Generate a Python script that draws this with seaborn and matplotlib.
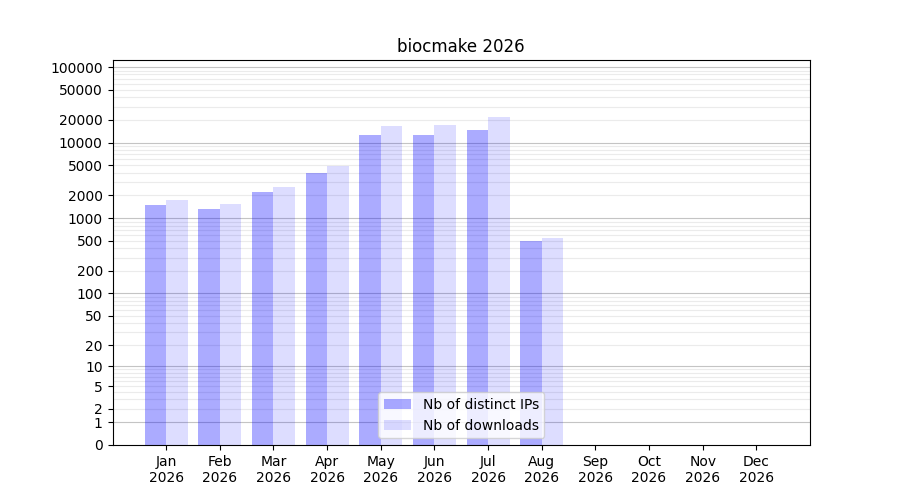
import numpy as np
import pandas as pd
import matplotlib
matplotlib.use("Agg")
import matplotlib.pyplot as plt
from matplotlib.patches import Patch
import seaborn as sns

months = ['Jan', 'Feb', 'Mar', 'Apr', 'May', 'Jun', 'Jul', 'Aug', 'Sep', 'Oct', 'Nov', 'Dec']
year = 2026
distinct_ips = [1500, 1320, 2220, 3960, 12600, 12600, 14700, 500, 0, 0, 0, 0]
downloads = [1740, 1540, 2590, 4900, 16600, 17100, 21800, 547, 0, 0, 0, 0]
series_names = ['Nb of distinct IPs', 'Nb of downloads']
ytick_values = [0, 1, 2, 5, 10, 20, 50, 100, 200, 500, 1000, 2000, 5000,
                10000, 20000, 50000, 100000]

# long format table for seaborn
df = pd.DataFrame({
    'month': months * 2,
    'value': distinct_ips + downloads,
    'series': [series_names[0]] * len(months) + [series_names[1]] * len(months),
})

colors = {series_names[0]: (0, 0, 1, 0.33), series_names[1]: (0, 0, 1, 0.133)}
y_top = 124000

fig, ax = plt.subplots(figsize=(9, 5), dpi=100)
sns.barplot(data=df, x='month', y='value', hue='series', order=months,
            hue_order=series_names, palette=['blue', 'blue'], saturation=1,
            linewidth=0, edgecolor='none', legend=False, ax=ax, zorder=2)

# set transparency per series (first 12 patches = IPs, next 12 = downloads)
for i, p in enumerate(ax.patches):
    p.set_facecolor(colors[series_names[0]] if i < len(months) else colors[series_names[1]])

# log(1+y) scale so that 0 is visible
ax.set_yscale('function', functions=(lambda y: np.log10(np.maximum(y, 0) + 1),
                                     lambda y: 10 ** y - 1))
ax.set_yticks(ytick_values)
ax.set_yticklabels([str(v) for v in ytick_values])

# grid lines: light ones for every 1..9 x 10^k, darker ones on decades
minor_vals = [m * 10 ** k for k in range(0, 6) for m in range(2, 10) if m * 10 ** k < y_top]
ax.set_yticks(minor_vals, minor=True)
ax.tick_params(axis='y', which='minor', length=0)
for v in minor_vals:
    ax.axhline(v, color='#ebebeb', linewidth=0.8, zorder=0)
for v in [1, 10, 100, 1000, 10000, 100000]:
    ax.axhline(v, color='#c4c4c4', linewidth=0.8, zorder=1)
ax.set_ylim(0, y_top)

ax.set_xlim(-1, 12)
ax.set_xticks(range(len(months)))
ax.set_xticklabels([f"{m}\n{year}" for m in months])
ax.set_xlabel('')
ax.set_ylabel('')
ax.set_title(f'biocmake {year}')

handles = [Patch(facecolor=colors[s], edgecolor='none', label=s) for s in series_names]
ax.legend(handles=handles, loc='lower center')

plt.savefig('out.png', dpi=100)
